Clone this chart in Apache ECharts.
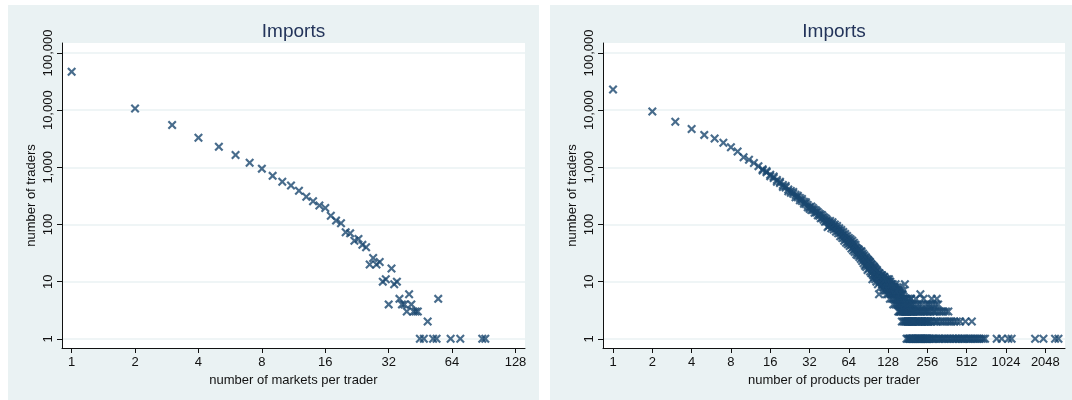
<!DOCTYPE html>
<html>
<head>
<meta charset="utf-8">
<script src="https://cdn.jsdelivr.net/npm/echarts@6/dist/echarts.min.js"></script>
<style>
  html, body { margin: 0; padding: 0; background: #ffffff; }
  #chart { width: 1072px; height: 400px; }
</style>
</head>
<body>
<div id="chart"></div>
<script>
// Left panel: number of importing traders by number of markets they buy from
const marketsPerTrader = [
  1, 2, 3, 4, 5, 6, 7, 8, 9, 10,
  11, 12, 13, 14, 15, 16, 17, 18, 19, 20,
  21, 22, 23, 24, 25, 26, 27, 28, 29, 30,
  31, 32, 33, 34, 35, 36, 37, 38, 39, 40,
  41, 42, 43, 44, 45, 47, 49, 52, 54, 55,
  63, 70, 89, 92
];
const tradersByMarkets = [
  47000, 10700, 5500, 3300, 2300, 1650, 1200, 950, 710, 560,
  480, 390, 305, 255, 215, 195, 142, 117, 105, 73,
  70, 52, 56, 44, 40, 20, 26, 20, 22, 10,
  11, 4, 17, 9, 10, 5, 4, 4, 3, 6,
  4, 3, 3, 3, 1, 1, 2, 1, 1, 5,
  1, 1, 1, 1
];

// Right panel: number of importing traders by number of products (1, 2, 3, ... 260)
const tradersByProducts = [
  23000, 9500, 6300, 4700, 3700, 3200, 2700, 2250, 1900, 1500,
  1360, 1190, 1050, 930, 820, 740, 650, 600, 530, 490,
  445, 410, 385, 345, 330, 300, 290, 258, 250, 228,
  220, 203, 206, 180, 182, 162, 166, 142, 150, 131,
  121, 130, 114, 90, 109, 104, 98, 101, 93, 92,
  84, 86, 78, 79, 70, 73, 64, 67, 58, 62,
  55, 57, 50, 53, 47, 50, 44, 46, 40, 44,
  37, 40, 39, 33, 36, 32, 35, 29, 33, 30,
  27, 31, 25, 29, 24, 20, 26, 22, 24, 21,
  23, 19, 22, 18, 20, 17, 11, 19, 16, 18,
  14, 17, 13, 15, 16, 12, 14, 13, 6, 14,
  11, 13, 12, 10, 13, 9, 12, 11, 8, 12,
  10, 9, 11, 8, 10, 7, 11, 10, 8, 11,
  7, 9, 10, 8, 9, 6, 8, 7, 9, 8,
  6, 7, 8, 6, 7, 9, 5, 7, 6, 8,
  5, 4, 7, 6, 5, 8, 4, 3, 6, 5,
  7, 4, 5, 6, 3, 5, 4, 7, 3, 5,
  4, 9, 4, 5, 3, 4, 1, 5, 3, 2,
  4, 3, 5, 2, 4, 1, 3, 2, 4, 3,
  1, 5, 2, 3, 1, 4, 2, 3, 1, 2,
  3, 1, 4, 2, 1, 3, 2, 1, 5, 2,
  3, 1, 2, 4, 1, 3, 2, 1, 2, 3,
  1, 4, 2, 1, 3, 6, 1, 2, 3, 1,
  2, 1, 4, 2, 1, 3, 1, 2, 5, 1,
  3, 2, 1, 2, 1, 3, 2, 1, 4, 1,
  2, 3, 1, 2, 1, 3, 2, 1, 4, 2
];
// Second set of observations for products 14, 15, ... 200
const firstOtherProduct = 14;
const tradersByProductsOther = [
  880, 860, 700, 690, 560, 560, 455,
  470, 380, 360, 370, 300, 320, 265, 280, 230, 245,
  200, 188, 180, 195, 160, 175, 145, 155, 128, 145,
  135, 112, 125, 118, 95, 115, 86, 110, 82, 100,
  75, 94, 70, 86, 62, 80, 58, 74, 52, 68,
  48, 63, 45, 58, 42, 55, 38, 52, 35, 48,
  33, 44, 30, 38, 29, 37, 27, 33, 25, 34,
  23, 28, 21, 26, 19, 27, 18, 25, 16, 24,
  17, 22, 15, 21, 14, 20, 15, 13, 18, 12,
  17, 11, 16, 10, 13, 15, 9, 12, 14, 10,
  12, 8, 11, 13, 9, 11, 8, 10, 12, 7,
  9, 11, 7, 9, 6, 10, 8, 6, 9, 7,
  10, 5, 8, 6, 7, 9, 5, 6, 8, 4,
  7, 5, 6, 8, 4, 6, 7, 5, 4, 6,
  7, 5, 3, 4, 6, 3, 5, 4, 3, 4,
  3, 5, 2, 4, 6, 3, 2, 4, 5, 3,
  2, 4, 3, 2, 5, 2, 3, 4, 2, 3,
  1, 4, 2, 3, 1, 2, 4, 1, 3, 2,
  5, 1, 2, 3, 1, 2, 4, 1, 2, 3
];
// Beyond 260 products: product counts held by exactly 5, 4, 3, 2 and 1 traders
const productsWithFiveTraders = [276, 302];
const productsWithFourTraders = [268, 281, 295, 309];
const productsWithThreeTraders = [265, 272, 284, 290, 301, 315, 327, 340, 355, 370];
const productsWithTwoTraders = [262, 270, 277, 288, 298, 305, 320, 333, 347, 362,
  378, 392, 410, 430, 455, 500, 560];
const productsWithOneTrader = [263, 266, 274, 279, 286, 293, 300, 311, 318, 325,
  336, 344, 351, 366, 374, 385, 398, 404, 418, 425, 440, 448, 463, 472, 486, 494,
  512, 525, 540, 553, 571, 586, 604, 621, 640, 662, 685, 707,
  868, 948, 1067, 1130, 1710, 1980, 2430, 2580];

// Tick labels
const traderTicks = [1, 10, 100, 1000, 10000, 100000];
const marketTicks = [1, 2, 4, 8, 16, 32, 64, 128];
const productTicks = [1, 2, 4, 8, 16, 32, 64, 128, 256, 512, 1024, 2048];

const marketPoints = marketsPerTrader.map((m, i) => [m, tradersByMarkets[i]]);
const productPoints = tradersByProducts
  .map((n, i) => [i + 1, n])
  .concat(tradersByProductsOther.map((n, i) => [firstOtherProduct + i, n]))
  .filter(p => p[1] > 0)
  .concat(productsWithFiveTraders.map(p => [p, 5]))
  .concat(productsWithFourTraders.map(p => [p, 4]))
  .concat(productsWithThreeTraders.map(p => [p, 3]))
  .concat(productsWithTwoTraders.map(p => [p, 2]))
  .concat(productsWithOneTrader.map(p => [p, 1]));

const FONT = '"Liberation Sans", Arial, Helvetica, sans-serif';
const NAVY = '#1a476f';
const PANEL = '#eaf2f3';
const INK = '#111111';
const crossMarker = 'path://M1.7,0L5,3.3L8.3,0L10,1.7L6.7,5L10,8.3L8.3,10L5,6.7L1.7,10L0,8.3L3.3,5L0,1.7Z';

const text13 = { fontFamily: FONT, fontSize: 13, color: INK };

function traderAxis(gridIndex) {
  return {
    type: 'log', logBase: 10, gridIndex: gridIndex,
    min: 0.69, max: 150000,
    name: 'number of traders', nameLocation: 'middle', nameGap: 24, nameRotate: 90,
    nameTextStyle: text13,
    axisLine: { show: true, onZero: false, lineStyle: { color: INK, width: 1 } },
    axisTick: { show: true, length: 5, customValues: traderTicks, lineStyle: { color: INK, width: 1 } },
    axisLabel: Object.assign({
      customValues: traderTicks, rotate: 90, margin: 7,
      formatter: v => Math.round(v).toLocaleString('en-US')
    }, text13),
    splitLine: { show: true, lineStyle: { color: PANEL, width: 1.5 } }
  };
}

function countAxis(gridIndex, min, max, ticks, title) {
  return {
    type: 'log', logBase: 2, gridIndex: gridIndex,
    min: min, max: max,
    name: title, nameLocation: 'middle', nameGap: 18,
    nameTextStyle: text13,
    axisLine: { show: true, onZero: false, lineStyle: { color: INK, width: 1 } },
    axisTick: { show: true, length: 5, customValues: ticks, lineStyle: { color: INK, width: 1 } },
    axisLabel: Object.assign({
      customValues: ticks, margin: 8,
      formatter: v => String(Math.round(v))
    }, text13),
    splitLine: { show: false }
  };
}

const chart = echarts.init(document.getElementById('chart'), null, { renderer: 'canvas' });
chart.setOption({
  animation: false,
  backgroundColor: '#ffffff',
  graphic: [
    { type: 'rect', silent: true, z: -100, shape: { x: 8, y: 5, width: 531, height: 395 }, style: { fill: PANEL } },
    { type: 'rect', silent: true, z: -100, shape: { x: 550, y: 5, width: 522, height: 395 }, style: { fill: PANEL } }
  ],
  title: [
    { text: 'Imports', left: 293.5, top: 22, textAlign: 'center', padding: 0,
      textStyle: { fontFamily: FONT, fontSize: 19, fontWeight: 'normal', color: '#23345a' } },
    { text: 'Imports', left: 834, top: 22, textAlign: 'center', padding: 0,
      textStyle: { fontFamily: FONT, fontSize: 19, fontWeight: 'normal', color: '#23345a' } }
  ],
  grid: [
    { left: 62, top: 43, width: 463, height: 305, show: true, backgroundColor: '#ffffff', borderWidth: 0 },
    { left: 603, top: 43, width: 462, height: 305, show: true, backgroundColor: '#ffffff', borderWidth: 0 }
  ],
  xAxis: [
    countAxis(0, 0.9, 142, marketTicks, 'number of markets per trader'),
    countAxis(1, 0.838, 2896, productTicks, 'number of products per trader')
  ],
  yAxis: [traderAxis(0), traderAxis(1)],
  series: [
    { type: 'scatter', xAxisIndex: 0, yAxisIndex: 0, data: marketPoints,
      symbol: crossMarker, symbolSize: 9, itemStyle: { color: NAVY } },
    { type: 'scatter', xAxisIndex: 1, yAxisIndex: 1, data: productPoints,
      symbol: crossMarker, symbolSize: 9, itemStyle: { color: NAVY } }
  ]
});
</script>
</body>
</html>
